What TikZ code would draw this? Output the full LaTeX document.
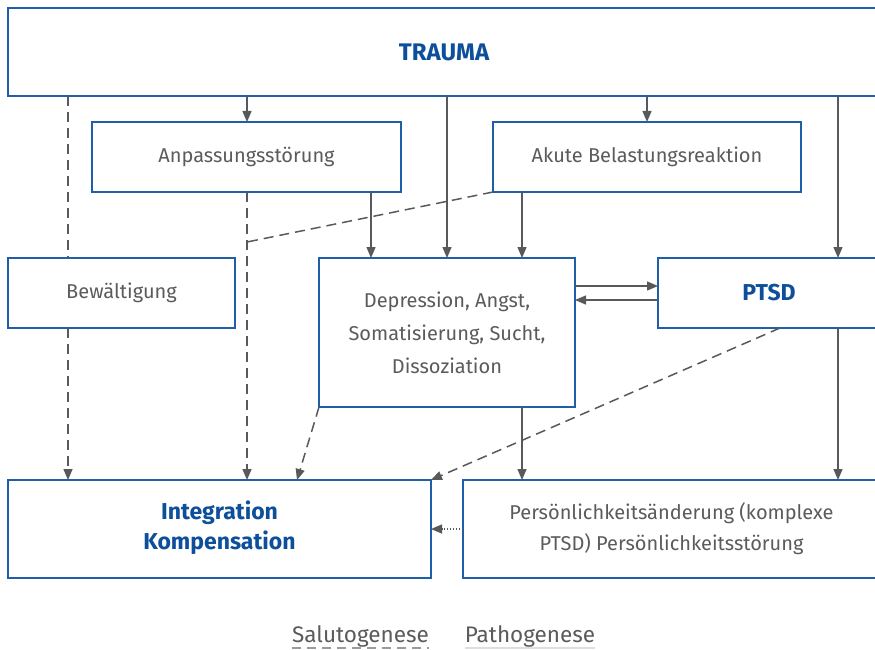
\documentclass[tikz,border=0pt]{standalone}
\usepackage{fontspec}
\setmainfont{Fira Sans}
\usetikzlibrary{arrows.meta}
\definecolor{boxblue}{HTML}{1F5FA8}
\definecolor{txtblue}{HTML}{0D4F9A}
\definecolor{txtgrey}{HTML}{5A5B5D}
\definecolor{lngrey}{HTML}{58595B}
\begin{document}
\begin{tikzpicture}[x=1pt,y=-1pt,
  box/.style={draw=boxblue, line width=1.8pt, fill=white, inner sep=0pt, outer sep=0pt,
    text=txtgrey, align=center, font=\fontsize{20}{33}\selectfont},
  btxt/.style={text=txtblue, font=\fontsize{23}{29}\selectfont\bfseries},
  arr/.style={draw=lngrey, line width=1.3pt, -{Triangle[length=11pt,width=9pt]}},
  darr/.style={arr, line width=1.5pt, dash pattern=on 10pt off 6pt},
  dline/.style={draw=lngrey, line width=1.5pt, dash pattern=on 10pt off 6pt},
  dotarr/.style={arr, dash pattern=on 1.5pt off 1.5pt}]
\useasboundingbox (0,0) rectangle (875,650);
\fill[white] (0,0) rectangle (875,650);
% boxes
\node[box, btxt, minimum width=872pt, minimum height=88pt] (trauma) at (444,52) {\fontsize{24}{29}\selectfont TRAUMA};
\node[box, minimum width=309pt, minimum height=70pt] (anp) at (246.5,157) {\raisebox{-2pt}{Anpassungsstörung}};
\node[box, minimum width=308pt, minimum height=70pt] (akut) at (647,157) {\raisebox{-2pt}{Akute Belastungsreaktion}};
\node[box, minimum width=227pt, minimum height=70pt] (bew) at (121.5,293) {\raisebox{-2pt}{Bewältigung}};
\node[box, minimum width=256pt, minimum height=149pt] (dep) at (447,332.5) {Depression, Angst,\\Somatisierung, Sucht,\\Dissoziation};
\node[box, btxt, minimum width=222pt, minimum height=70pt] (ptsd) at (769,293) {PTSD};
\node[box, btxt, minimum width=423pt, minimum height=98pt] (integ) at (219.5,529) {\begin{tabular}{@{}c@{}}Integration\\[1pt]Kompensation\end{tabular}};
\node[box, font=\fontsize{20}{31}\selectfont, minimum width=417pt, minimum height=98pt] (pers) at (671.5,529) {Persönlichkeitsänderung (komplexe\\PTSD) Persönlichkeitsstörung};
% helper coordinates
\coordinate (jn) at (247,242);
% dashed (salutogenese)
\draw[dline] (trauma.south -| 68,0) -- (bew.north -| 68,0);
\draw[darr] (bew.south -| 68,0) -- (integ.north -| 68,0);
\draw[darr] (anp.south -| 247,0) -- (integ.north -| 247,0);
\draw[dline] (akut.south west) -- (jn);
\draw[darr] (dep.south west) -- (integ.north -| 297,0);
\draw[darr] (ptsd.south -| 780,0) -- (integ.north east);
% solid (pathogenese)
\draw[arr] (trauma.south -| 247,0) -- (anp.north -| 247,0);
\draw[arr] (trauma.south -| 647,0) -- (akut.north -| 647,0);
\draw[arr] (trauma.south -| 447,0) -- (dep.north -| 447,0);
\draw[arr] (trauma.south -| 838,0) -- (ptsd.north -| 838,0);
\draw[arr] (anp.south -| 371,0) -- (dep.north -| 371,0);
\draw[arr] (akut.south -| 522,0) -- (dep.north -| 522,0);
\draw[arr] (dep.east |- 0,286) -- (ptsd.west |- 0,286);
\draw[arr] (ptsd.west |- 0,300) -- (dep.east |- 0,300);
\draw[arr] (dep.south -| 522,0) -- (pers.north -| 522,0);
\draw[arr] (ptsd.south -| 838,0) -- (pers.north -| 838,0);
\draw[dotarr] (pers.west) -- (integ.east);
% legend
\node[text=txtgrey, font=\fontsize{22.5}{26}\selectfont, anchor=base, inner sep=0pt] (salu) at (360.5,642) {Salutogenese};
\node[text=txtgrey, font=\fontsize{22.5}{26}\selectfont, anchor=base, inner sep=0pt] (patho) at (530,642) {Pathogenese};
\draw[draw=lngrey!60, line width=1.5pt, dash pattern=on 9pt off 6pt] (salu.west |- 0,648) -- (salu.east |- 0,648);
\draw[draw=lngrey!20, line width=1.5pt] (patho.west |- 0,648) -- (patho.east |- 0,648);
\end{tikzpicture}
\end{document}
